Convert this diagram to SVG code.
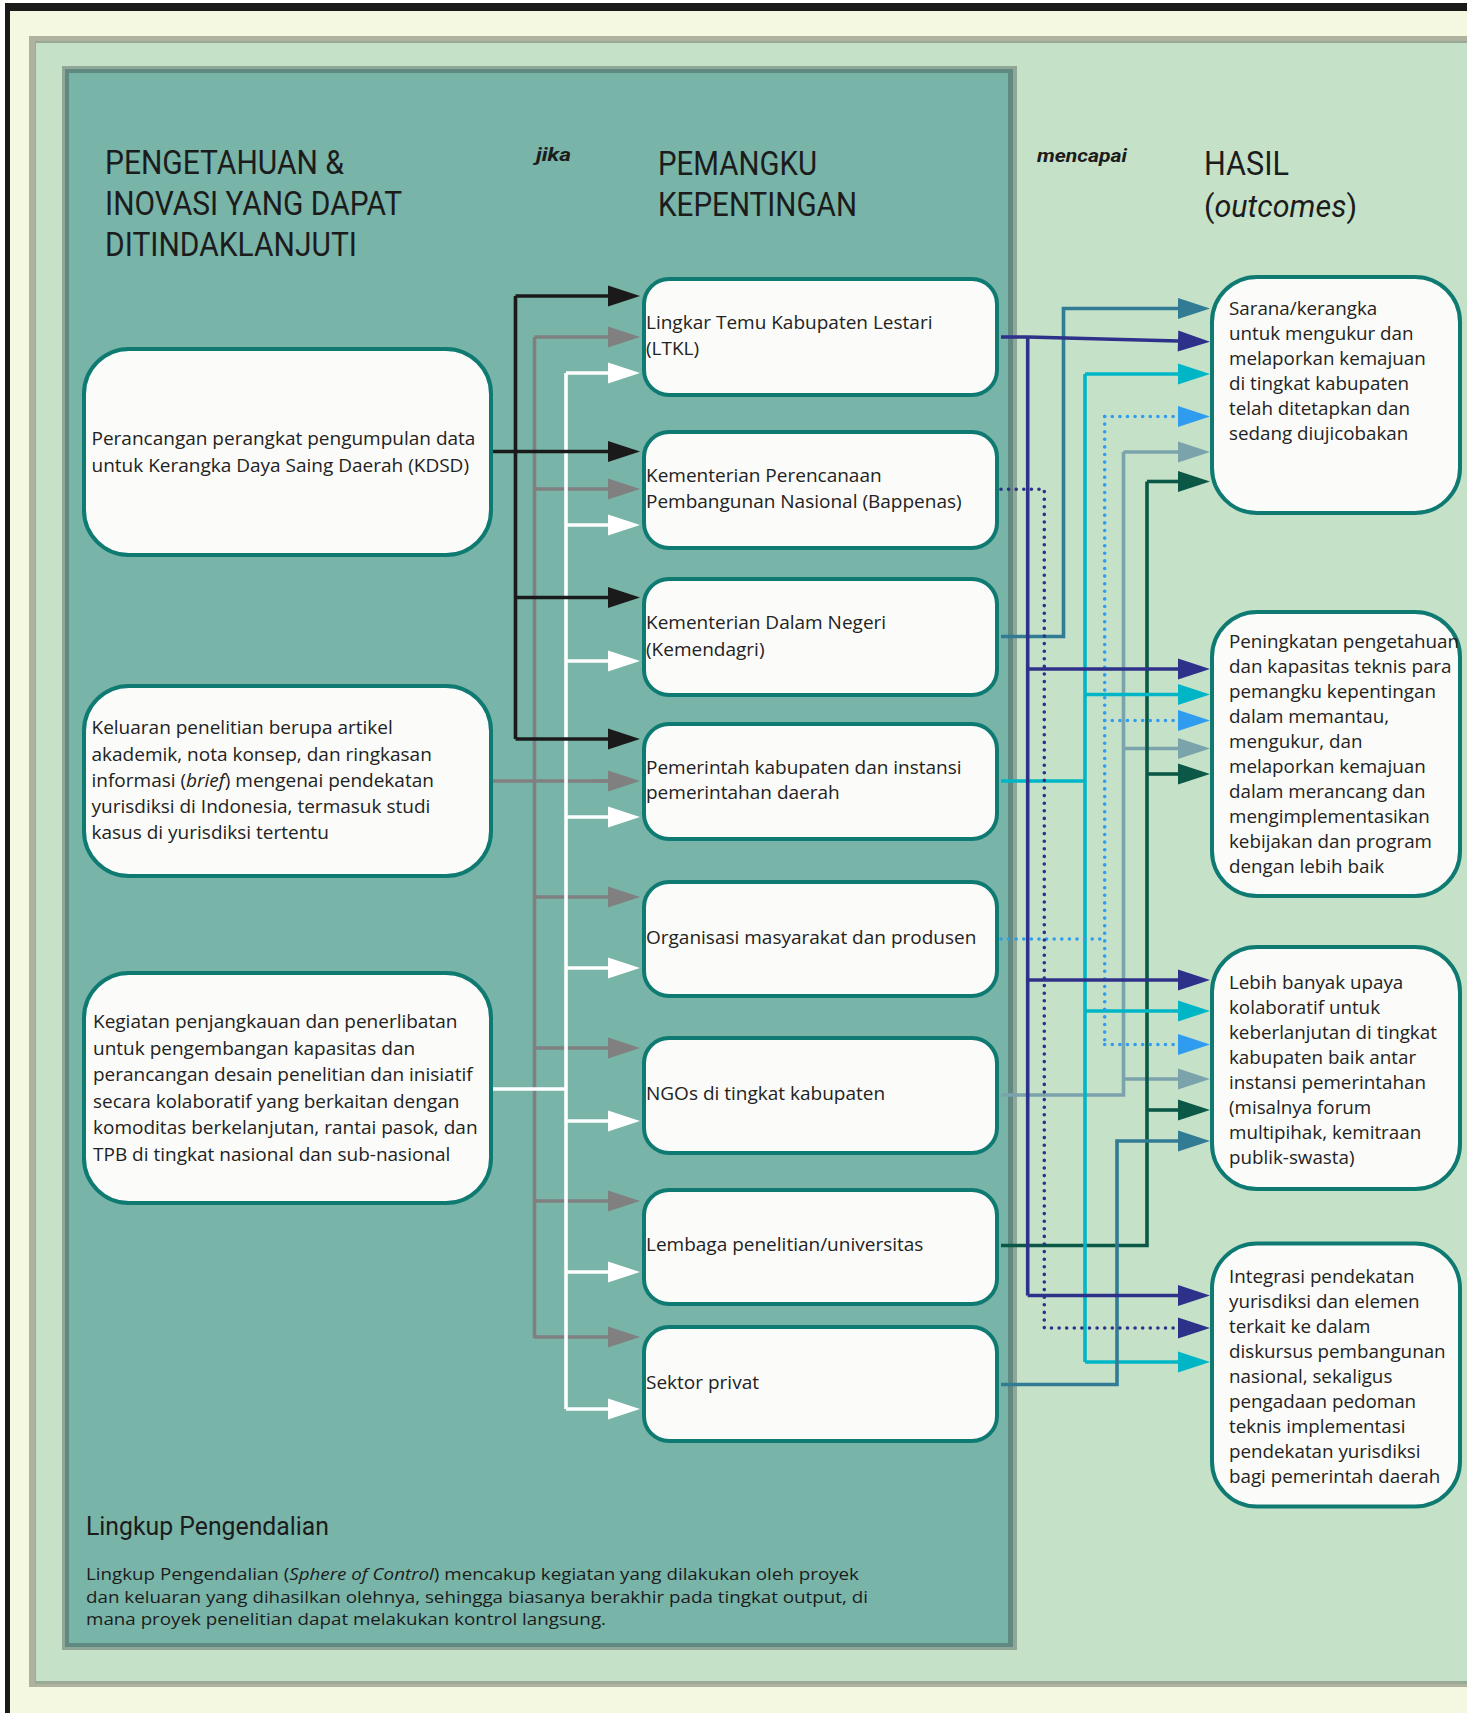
<svg xmlns="http://www.w3.org/2000/svg" width="1467" height="1713" viewBox="0 0 1467 1713">
<style>
.hd{font-family:Roboto,"Liberation Sans",sans-serif;font-size:33px;fill:#1c1c1c}
.lk{font-family:Roboto,"Liberation Sans",sans-serif;font-size:19px;font-weight:bold;font-style:italic;fill:#1c1c1c}
.tl{font-family:"Open Sans","Noto Sans",sans-serif;font-size:19px;fill:#222}
.tm{font-family:"Open Sans","Noto Sans",sans-serif;font-size:19px;fill:#222}
.to{font-family:"Open Sans","Noto Sans",sans-serif;font-size:18.8px;fill:#222}
.tp{font-family:"Open Sans","Noto Sans",sans-serif;font-size:17px;fill:#1c1c1c}
.nl{fill:#fbfbf9;stroke:#0f7a72;stroke-width:4}
.c{fill:none;stroke-width:3.6;stroke-linejoin:miter}
.dot{stroke-dasharray:0 7.6;stroke-linecap:round}
</style>
<defs>
<marker id="mK" markerUnits="userSpaceOnUse" markerWidth="34" markerHeight="24" refX="0" refY="11" orient="auto" overflow="visible"><path d="M0,0.5 L32,11 L0,21.5 z" fill="#1a1a1a"/></marker>
<marker id="mG" markerUnits="userSpaceOnUse" markerWidth="34" markerHeight="24" refX="0" refY="11" orient="auto" overflow="visible"><path d="M0,0.5 L32,11 L0,21.5 z" fill="#808080"/></marker>
<marker id="mW" markerUnits="userSpaceOnUse" markerWidth="34" markerHeight="24" refX="0" refY="11" orient="auto" overflow="visible"><path d="M0,0.5 L32,11 L0,21.5 z" fill="#ffffff"/></marker>
<marker id="mN" markerUnits="userSpaceOnUse" markerWidth="34" markerHeight="24" refX="0" refY="11" orient="auto" overflow="visible"><path d="M0,0.5 L32,11 L0,21.5 z" fill="#2e3189"/></marker>
<marker id="mS" markerUnits="userSpaceOnUse" markerWidth="34" markerHeight="24" refX="0" refY="11" orient="auto" overflow="visible"><path d="M0,0.5 L32,11 L0,21.5 z" fill="#317b94"/></marker>
<marker id="mC" markerUnits="userSpaceOnUse" markerWidth="34" markerHeight="24" refX="0" refY="11" orient="auto" overflow="visible"><path d="M0,0.5 L32,11 L0,21.5 z" fill="#00b6c6"/></marker>
<marker id="mB" markerUnits="userSpaceOnUse" markerWidth="34" markerHeight="24" refX="0" refY="11" orient="auto" overflow="visible"><path d="M0,0.5 L32,11 L0,21.5 z" fill="#2f9cf0"/></marker>
<marker id="mY" markerUnits="userSpaceOnUse" markerWidth="34" markerHeight="24" refX="0" refY="11" orient="auto" overflow="visible"><path d="M0,0.5 L32,11 L0,21.5 z" fill="#7aa3ab"/></marker>
<marker id="mD" markerUnits="userSpaceOnUse" markerWidth="34" markerHeight="24" refX="0" refY="11" orient="auto" overflow="visible"><path d="M0,0.5 L32,11 L0,21.5 z" fill="#0b5846"/></marker>
</defs>

<g id="background">
<rect x="0" y="0" width="1467" height="1713" fill="#ffffff"/>
<rect x="5" y="3" width="1462" height="1710" fill="#1a1a1a"/>
<rect x="10" y="11" width="1457" height="1702" fill="#f4f8e1"/>
<rect x="29" y="36" width="1438" height="1651" fill="#aeb29f"/>
<rect x="35" y="41" width="1432" height="1643" fill="#9ba997"/>
<rect x="36" y="43" width="1431" height="1638" fill="#c5e1c8"/>
<rect x="62" y="66" width="955" height="1584" fill="#90a696"/>
<rect x="65" y="69" width="948" height="1578" fill="#5f8981"/>
<rect x="69" y="73" width="939" height="1570" fill="#78b4a8"/>
</g>

<g id="headers">
<text class="hd" x="105" y="174" textLength="239" lengthAdjust="spacingAndGlyphs">PENGETAHUAN &amp;</text>
<text class="hd" x="105" y="215" textLength="297" lengthAdjust="spacingAndGlyphs">INOVASI YANG DAPAT</text>
<text class="hd" x="105" y="256" textLength="252" lengthAdjust="spacingAndGlyphs">DITINDAKLANJUTI</text>
<text class="lk" x="536" y="161" textLength="35" lengthAdjust="spacingAndGlyphs">jika</text>
<text class="hd" x="658" y="175" textLength="159" lengthAdjust="spacingAndGlyphs">PEMANGKU</text>
<text class="hd" x="658" y="216" textLength="199" lengthAdjust="spacingAndGlyphs">KEPENTINGAN</text>
<text class="lk" x="1037" y="162" textLength="90" lengthAdjust="spacingAndGlyphs">mencapai</text>
<text class="hd" x="1204" y="175" textLength="85" lengthAdjust="spacingAndGlyphs">HASIL</text>
<text class="hd" x="1204" y="217" textLength="153" lengthAdjust="spacingAndGlyphs" style="font-size:31px">(<tspan font-style="italic">outcomes</tspan>)</text>
</g>

<g id="connectors">
<path class="c" stroke="#808080" stroke-width="4" d="M493,781 H608 M534.5,337 V1338"/>
<path class="c" stroke="#808080" stroke-width="4" marker-end="url(#mG)" d="M534.5,337 H608"/>
<path class="c" stroke="#808080" stroke-width="4" marker-end="url(#mG)" d="M534.5,489 H608"/>
<path class="c" stroke="#808080" stroke-width="4" marker-end="url(#mG)" d="M593,781 H608"/>
<path class="c" stroke="#808080" stroke-width="4" marker-end="url(#mG)" d="M534.5,897 H608"/>
<path class="c" stroke="#808080" stroke-width="4" marker-end="url(#mG)" d="M534.5,1048 H608"/>
<path class="c" stroke="#808080" stroke-width="4" marker-end="url(#mG)" d="M534.5,1201 H608"/>
<path class="c" stroke="#808080" stroke-width="4" marker-end="url(#mG)" d="M534.5,1337 H608"/>
<path class="c" stroke="#ffffff" d="M493,1089 H566 M566,373 V1409"/>
<path class="c" stroke="#ffffff" marker-end="url(#mW)" d="M566,373 H608"/>
<path class="c" stroke="#ffffff" marker-end="url(#mW)" d="M566,525 H608"/>
<path class="c" stroke="#ffffff" marker-end="url(#mW)" d="M566,661 H608"/>
<path class="c" stroke="#ffffff" marker-end="url(#mW)" d="M566,817 H608"/>
<path class="c" stroke="#ffffff" marker-end="url(#mW)" d="M566,968 H608"/>
<path class="c" stroke="#ffffff" marker-end="url(#mW)" d="M566,1121 H608"/>
<path class="c" stroke="#ffffff" marker-end="url(#mW)" d="M566,1272 H608"/>
<path class="c" stroke="#ffffff" marker-end="url(#mW)" d="M566,1409 H608"/>
<path class="c" stroke="#1a1a1a" stroke-width="4" d="M515.5,296 V739"/>
<path class="c" stroke="#1a1a1a" stroke-width="4" marker-end="url(#mK)" d="M515.5,296 H608"/>
<path class="c" stroke="#1a1a1a" stroke-width="4" marker-end="url(#mK)" d="M493,451.5 H608"/>
<path class="c" stroke="#1a1a1a" stroke-width="4" marker-end="url(#mK)" d="M515.5,597.5 H608"/>
<path class="c" stroke="#1a1a1a" stroke-width="4" marker-end="url(#mK)" d="M515.5,739 H608"/>

<path class="c" stroke="#7aa3ab" d="M1001,1095 H1123.5 V452"/>
<path class="c" stroke="#7aa3ab" marker-end="url(#mY)" d="M1123.5,452 H1178"/>
<path class="c" stroke="#7aa3ab" marker-end="url(#mY)" d="M1123.5,748.5 H1178"/>
<path class="c" stroke="#7aa3ab" marker-end="url(#mY)" d="M1123.5,1079 H1178"/>
<path class="c" stroke="#0b5846" d="M1001,1245.5 H1147 V481.5"/>
<path class="c" stroke="#0b5846" marker-end="url(#mD)" d="M1147,481.5 H1178"/>
<path class="c" stroke="#0b5846" marker-end="url(#mD)" d="M1147,774 H1178"/>
<path class="c" stroke="#0b5846" marker-end="url(#mD)" d="M1147,1110 H1178"/>
<path class="c" stroke="#00b6c6" d="M1001,781 H1085 M1085,374 V1362"/>
<path class="c" stroke="#00b6c6" marker-end="url(#mC)" d="M1085,374 H1178"/>
<path class="c" stroke="#00b6c6" marker-end="url(#mC)" d="M1085,694.5 H1178"/>
<path class="c" stroke="#00b6c6" marker-end="url(#mC)" d="M1085,1011 H1178"/>
<path class="c" stroke="#00b6c6" marker-end="url(#mC)" d="M1085,1362 H1178"/>
<path class="c" stroke="#317b94" marker-end="url(#mS)" d="M1001,636.5 H1063.5 V308.5 H1178"/>
<path class="c" stroke="#317b94" marker-end="url(#mS)" d="M1001,1384.5 H1117 V1141 H1178"/>
<path class="c dot" stroke="#2f9cf0" d="M1001,939 H1104.7 M1104.7,416.5 V1044.5"/>
<path class="c dot" stroke="#2f9cf0" marker-end="url(#mB)" d="M1104.7,416.5 H1178"/>
<path class="c dot" stroke="#2f9cf0" marker-end="url(#mB)" d="M1104.7,720.5 H1178"/>
<path class="c dot" stroke="#2f9cf0" marker-end="url(#mB)" d="M1104.7,1044.5 H1178"/>
<path class="c dot" stroke="#2e3189" marker-end="url(#mN)" d="M1001,489.3 H1044.3 V1328 H1178"/>
<path class="c" stroke="#2e3189" marker-end="url(#mN)" d="M1001,337 H1028 L1178,341"/>
<path class="c" stroke="#2e3189" d="M1027.7,337 V1295.5"/>
<path class="c" stroke="#2e3189" marker-end="url(#mN)" d="M1027.7,669 H1178"/>
<path class="c" stroke="#2e3189" marker-end="url(#mN)" d="M1027.7,980 H1178"/>
<path class="c" stroke="#2e3189" marker-end="url(#mN)" d="M1027.7,1295.5 H1178"/>
</g>

<g id="node-kdsd">
<rect class="nl" x="84" y="349" width="407" height="206" rx="45"/>
<text class="tl"><tspan x="91.5" y="445">Perancangan perangkat pengumpulan data</tspan><tspan x="91.5" y="472">untuk Kerangka Daya Saing Daerah (KDSD)</tspan></text>
</g>
<g id="node-keluaran">
<rect class="nl" x="84" y="686" width="407" height="190" rx="45"/>
<text class="tl"><tspan x="91.5" y="734">Keluaran penelitian berupa artikel</tspan><tspan x="91.5" y="760.5">akademik, nota konsep, dan ringkasan</tspan><tspan x="91.5" y="787">informasi (<tspan font-style="italic">brief</tspan>) mengenai pendekatan</tspan><tspan x="91.5" y="813">yurisdiksi di Indonesia, termasuk studi</tspan><tspan x="91.5" y="839">kasus di yurisdiksi tertentu</tspan></text>
</g>
<g id="node-kegiatan">
<rect class="nl" x="84" y="973" width="407" height="230" rx="45"/>
<text class="tl"><tspan x="93" y="1028">Kegiatan penjangkauan dan penerlibatan</tspan><tspan x="93" y="1054.5">untuk pengembangan kapasitas dan</tspan><tspan x="93" y="1081">perancangan desain penelitian dan inisiatif</tspan><tspan x="93" y="1107.5">secara kolaboratif yang berkaitan dengan</tspan><tspan x="93" y="1134">komoditas berkelanjutan, rantai pasok, dan</tspan><tspan x="93" y="1160.5">TPB di tingkat nasional dan sub-nasional</tspan></text>
</g>

<g id="node-ltkl">
<rect class="nl" x="644" y="279" width="353" height="116" rx="25"/>
<text class="tm"><tspan x="646" y="328.5">Lingkar Temu Kabupaten Lestari</tspan><tspan x="646" y="355">(LTKL)</tspan></text>
</g>
<g id="node-bappenas">
<rect class="nl" x="644" y="432" width="353" height="116" rx="25"/>
<text class="tm"><tspan x="646" y="481.5">Kementerian Perencanaan</tspan><tspan x="646" y="508">Pembangunan Nasional (Bappenas)</tspan></text>
</g>
<g id="node-kemendagri">
<rect class="nl" x="644" y="579" width="353" height="116" rx="25"/>
<text class="tm"><tspan x="646" y="629">Kementerian Dalam Negeri</tspan><tspan x="646" y="655.5">(Kemendagri)</tspan></text>
</g>
<g id="node-pemkab">
<rect class="nl" x="644" y="724" width="353" height="115" rx="25"/>
<text class="tm"><tspan x="646" y="773.5">Pemerintah kabupaten dan instansi</tspan><tspan x="646" y="799">pemerintahan daerah</tspan></text>
</g>
<g id="node-organisasi">
<rect class="nl" x="644" y="882" width="353" height="114" rx="25"/>
<text class="tm" x="646" y="944">Organisasi masyarakat dan produsen</text>
</g>
<g id="node-ngos">
<rect class="nl" x="644" y="1038" width="353" height="115" rx="25"/>
<text class="tm" x="646" y="1100">NGOs di tingkat kabupaten</text>
</g>
<g id="node-lembaga">
<rect class="nl" x="644" y="1190" width="353" height="114" rx="25"/>
<text class="tm" x="646" y="1251">Lembaga penelitian/universitas</text>
</g>
<g id="node-sektor">
<rect class="nl" x="644" y="1327" width="353" height="114" rx="25"/>
<text class="tm" x="646" y="1389">Sektor privat</text>
</g>

<g id="outcome-sarana">
<rect class="nl" x="1212" y="277" width="248" height="236" rx="45"/>
<text class="to"><tspan x="1229" y="315">Sarana/kerangka</tspan><tspan x="1229" y="340">untuk mengukur dan</tspan><tspan x="1229" y="365">melaporkan kemajuan</tspan><tspan x="1229" y="390">di tingkat kabupaten</tspan><tspan x="1229" y="415">telah ditetapkan dan</tspan><tspan x="1229" y="440">sedang diujicobakan</tspan></text>
</g>
<g id="outcome-peningkatan">
<rect class="nl" x="1212" y="612" width="248" height="284" rx="45"/>
<text class="to"><tspan x="1229" y="648">Peningkatan pengetahuan</tspan><tspan x="1229" y="673">dan kapasitas teknis para</tspan><tspan x="1229" y="698">pemangku kepentingan</tspan><tspan x="1229" y="723">dalam memantau,</tspan><tspan x="1229" y="748">mengukur, dan</tspan><tspan x="1229" y="773">melaporkan kemajuan</tspan><tspan x="1229" y="798">dalam merancang dan</tspan><tspan x="1229" y="823">mengimplementasikan</tspan><tspan x="1229" y="848">kebijakan dan program</tspan><tspan x="1229" y="873">dengan lebih baik</tspan></text>
</g>
<g id="outcome-kolaboratif">
<rect class="nl" x="1212" y="947" width="248" height="242" rx="45"/>
<text class="to"><tspan x="1229" y="989">Lebih banyak upaya</tspan><tspan x="1229" y="1014">kolaboratif untuk</tspan><tspan x="1229" y="1039">keberlanjutan di tingkat</tspan><tspan x="1229" y="1064">kabupaten baik antar</tspan><tspan x="1229" y="1089">instansi pemerintahan</tspan><tspan x="1229" y="1114">(misalnya forum</tspan><tspan x="1229" y="1139">multipihak, kemitraan</tspan><tspan x="1229" y="1164">publik-swasta)</tspan></text>
</g>
<g id="outcome-integrasi">
<rect class="nl" x="1212" y="1243.5" width="248" height="263" rx="45"/>
<text class="to"><tspan x="1229" y="1283">Integrasi pendekatan</tspan><tspan x="1229" y="1308">yurisdiksi dan elemen</tspan><tspan x="1229" y="1333">terkait ke dalam</tspan><tspan x="1229" y="1358">diskursus pembangunan</tspan><tspan x="1229" y="1383">nasional, sekaligus</tspan><tspan x="1229" y="1408">pengadaan pedoman</tspan><tspan x="1229" y="1433">teknis implementasi</tspan><tspan x="1229" y="1458">pendekatan yurisdiksi</tspan><tspan x="1229" y="1483">bagi pemerintah daerah</tspan></text>
</g>

<g id="sphere-of-control">
<text class="hd" x="86" y="1535" textLength="243" lengthAdjust="spacingAndGlyphs" style="font-size:26px">Lingkup Pengendalian</text>
<text class="tp" x="86" y="1580" textLength="773" lengthAdjust="spacingAndGlyphs">Lingkup Pengendalian (<tspan font-style="italic">Sphere of Control</tspan>) mencakup kegiatan yang dilakukan oleh proyek</text>
<text class="tp" x="86" y="1602.5" textLength="782" lengthAdjust="spacingAndGlyphs">dan keluaran yang dihasilkan olehnya, sehingga biasanya berakhir pada tingkat output, di</text>
<text class="tp" x="86" y="1625" textLength="520" lengthAdjust="spacingAndGlyphs">mana proyek penelitian dapat melakukan kontrol langsung.</text>
</g>
</svg>
